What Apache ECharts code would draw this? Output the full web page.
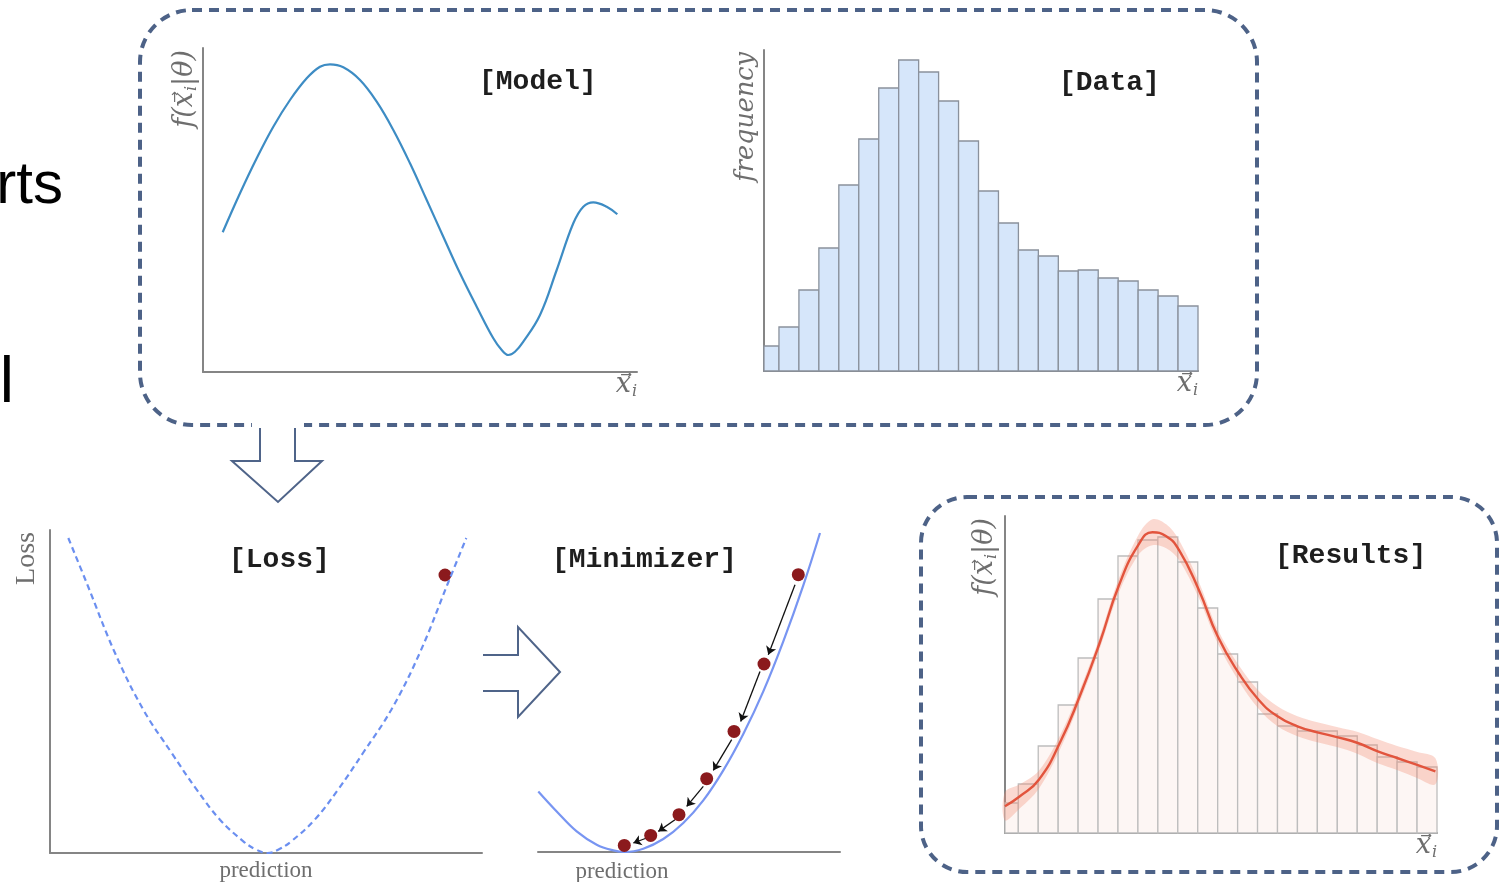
<!DOCTYPE html>
<html><head><meta charset="utf-8">
<script src="https://cdn.jsdelivr.net/npm/echarts@6/dist/echarts.min.js"></script>
<style>html,body{margin:0;padding:0;background:#fff}#c{width:1504px;height:882px}</style>
</head><body><div id="c"></div>
<script>
// ---- Model panel: curve f(x|theta) (x offset, height) ----
const modelX = [19.7,37,53.7,70.3,87,103.7,117,127,140.3,157,173.7,190.3,207,223.7,240.3,257,273.7,290.3,298.7,305.3,312,320.3,337,353.7,370.3,380.3,390.3,403.7,414.3];
const modelY = [139.7,178.7,213.7,245.3,272,293.7,305.3,307.7,304.7,292,270.3,242,208.7,172,135.3,98.7,65.3,33.7,22,17,20.3,30.3,57,102,148.7,165.3,169.7,165.3,157.7];

// ---- Data panel: histogram counts per bin ----
const dataCounts = [25,44,81,123,186,232,283,311,299,270,230,180,148,121,115,100,101,93,90,81,75,65];

// ---- Loss panel: dashed loss curve + current point ----
const lossX = [18.3,36.7,65,93.3,121.7,146.7,170,193.3,206,217.3,228.6,241.3,264.7,288,313,341.3,369.7,398,416.3];
const lossY = [315,270,200,143.3,100,63.3,33.3,11.7,3.5,0,3.5,11.7,33.3,63.3,100,143.3,200,270,315];
const lossPoint = [[395,278]];

// ---- Minimizer panel: loss curve, iterates, step arrows ----
const minX = [0.3,18.7,38.7,58.7,75.3,87,105.3,125.3,145.3,165.3,185.3,205.3,225.3,245.3,265.3,282];
const minY = [60.6,40.6,20.6,7.3,1.6,0,3.3,13,29,51.6,81.6,118,160.6,210.6,266.6,319];
const stepX = [260.3,226,196,168.7,141,112.7,86.3];
const stepY = [277.3,188,120.6,73.3,37.3,16.6,6.6];
const arrowFrom = [[257,267.3],[222,180.6],[193.7,112.3],[165.3,65.6],[137,32.3],[108.7,14]];
const arrowTo = [[230.3,197.3],[202.7,130.6],[175.3,81.6],[148.7,45.6],[120.3,20.6],[95.3,9]];

// ---- Results panel: histogram + fitted curve + uncertainty band ----
const resultCounts = [30,49,87,128,175,234,277,293,296,271,225,179,151,119,107,102,102,97,88,76,71,66];
const fitX = [0.33,1.08,2.03,3.08,4.08,5.08,6.03,7.03,7.73,8.42,9.05,10.05,11.0,12.05,13.05,14.0,15.0,16.0,17.03,18.03,19.03,20.0,20.97,21.92];
const fitY = [26.7,36.7,53.3,90,136.7,190,246.7,288.3,300.7,296.7,283.3,243.3,196.7,160,133.3,116.7,106.7,100.7,95.7,90,81.7,75,68.3,61.7];
const bandUpper = [40.7,48.7,62.3,97,142.7,196,253.7,298.3,313.7,308.7,293.3,251.3,203.7,168,142.3,126.7,116.7,110.7,105.7,101,93.7,87,81.3,74.7];
const bandLower = [12.7,24.7,44.3,83,130.7,184,239.7,278.3,287.7,284.7,273.3,235.3,189.7,152,124.3,106.7,96.7,90.7,85.7,79,69.7,63,55.3,48.7];

const AX = '#858585';
const BOX = '#4d6287';
const ARW = '#4f6489';
const LABEL = '#6e6e6e';
const MONO = {fontFamily:'Liberation Mono', fontWeight:'bold', fontSize:28, color:'#1e1e1e'};
const ITAL = {fontFamily:'DejaVu Serif', fontStyle:'italic', fontSize:24, color:LABEL};
const RICH = {
  it:{fontFamily:'DejaVu Serif', fontStyle:'italic', fontSize:27, color:LABEL, lineHeight:36},
  ar:{fontFamily:'DejaVu Sans', fontSize:14, color:LABEL, width:1, align:'right', verticalAlign:'top', padding:[1,0,0,0]},
  sub:{fontFamily:'DejaVu Serif', fontStyle:'italic', fontSize:16, color:LABEL, verticalAlign:'bottom', padding:[0,0,3,0]}
};

function zip(a,b){return a.map((v,i)=>[v,b[i]]);}
function histData(c){return c.map((v,i)=>[i,i+1,v]);}
function histRender(fill, stroke){
  return function(params, api){
    const p0 = api.coord([api.value(0), api.value(2)]);
    const p1 = api.coord([api.value(1), 0]);
    const cs = params.coordSys;
    const r = echarts.graphic.clipRectByRect(
      {x:p0[0], y:p0[1], width:p1[0]-p0[0], height:p1[1]-p0[1]},
      {x:cs.x, y:cs.y-2, width:cs.width, height:cs.height+2});
    return r && {type:'rect', shape:r, style:{fill:fill, stroke:stroke, lineWidth:1.3}};
  };
}
function axBase(g, min, max, extra){
  return Object.assign({type:'value', gridIndex:g, min:min, max:max,
    axisLine:{show:true, onZero:false, lineStyle:{color:AX, width:2}},
    axisTick:{show:false}, axisLabel:{show:false}, splitLine:{show:false}}, extra||{});
}
const xiName = {name:'{it|x}{ar|\u2192}{sub|i}', nameLocation:'end', nameGap:0,
  nameTextStyle:{align:'right', verticalAlign:'top', padding:[-5,0,0,0], rich:RICH}};
function yName(txt, style, pad){
  return {name:txt, nameLocation:'end', nameGap:-2, nameRotate:90,
    nameTextStyle:Object.assign({}, style, {align:'right', verticalAlign:'bottom', padding:[0,0,pad,0]})};
}
const fName = '{it|f(x}{ar|\u2192}{sub|i}{it||\u03B8)}';

const chart = echarts.init(document.getElementById('c'), null, {renderer:'canvas'});
chart.setOption({
  animation:false,
  backgroundColor:'#fff',
  title:[
    {text:'[Model]', left:479, top:68, padding:0, textStyle:MONO},
    {text:'[Data]', left:1059, top:69, padding:0, textStyle:MONO},
    {text:'[Loss]', left:229, top:546, padding:0, textStyle:MONO},
    {text:'[Minimizer]', left:552, top:546, padding:0, textStyle:MONO},
    {text:'[Results]', left:1275, top:542, padding:0, textStyle:MONO}
  ],
  grid:[
    {left:203, top:48, width:434, height:324, outerBoundsMode:'none'},
    {left:764, top:50, width:434, height:321, outerBoundsMode:'none'},
    {left:50, top:530, width:432, height:323, outerBoundsMode:'none'},
    {left:538, top:530, width:302, height:322, outerBoundsMode:'none'},
    {left:1005, top:516, width:432, height:317, outerBoundsMode:'none'}
  ],
  xAxis:[
    axBase(0, 0, 434, xiName),
    axBase(1, 0.25, 22, xiName),
    axBase(2, 0, 432, {name:'prediction', nameLocation:'middle', nameGap:6,
      nameTextStyle:{fontFamily:'Liberation Serif', fontSize:23, color:LABEL, verticalAlign:'top'}}),
    axBase(3, 0, 302, {name:'prediction', nameLocation:'start', nameGap:-84,
      nameTextStyle:{fontFamily:'Liberation Serif', fontSize:23, color:LABEL, align:'center', verticalAlign:'top', padding:[8,0,0,0]}}),
    axBase(4, 0.333, 22, xiName)
  ],
  yAxis:[
    axBase(0, 0, 324, yName(fName, {rich:RICH}, 0)),
    axBase(1, 0, 321, yName('frequency', Object.assign({}, ITAL, {fontSize:25.5}), 5)),
    axBase(2, 0, 323, yName('Loss', {fontFamily:'Liberation Serif', fontSize:28, color:LABEL}, 9)),
    axBase(3, 0, 322, {show:false}),
    axBase(4, 0, 317, yName(fName, {rich:RICH}, 2))
  ],
  series:[
    {type:'line', xAxisIndex:0, yAxisIndex:0, data:zip(modelX, modelY), smooth:0.4, symbol:'none',
      lineStyle:{color:'#3d8cc4', width:2.2}},
    {type:'custom', xAxisIndex:1, yAxisIndex:1, data:histData(dataCounts),
      renderItem:histRender('#d6e6fa', '#8a919c'), encode:{x:[0,1], y:2}},
    {type:'line', xAxisIndex:2, yAxisIndex:2, data:zip(lossX, lossY), smooth:0.4, symbol:'none',
      lineStyle:{color:'#6b8ff0', width:2.2, type:[6,4]}},
    {type:'scatter', xAxisIndex:2, yAxisIndex:2, data:lossPoint, symbolSize:13,
      itemStyle:{color:'#8b1a1d', opacity:1}},
    {type:'line', xAxisIndex:3, yAxisIndex:3, data:zip(minX, minY), smooth:0.4, symbol:'none',
      lineStyle:{color:'#7895f2', width:2.2}},
    {type:'lines', coordinateSystem:'cartesian2d', xAxisIndex:3, yAxisIndex:3,
      symbol:['none','arrow'], symbolSize:[0,8],
      lineStyle:{color:'#111', width:1.3, opacity:1, curveness:0},
      data:arrowFrom.map((a,i)=>({coords:[a, arrowTo[i]]})), z:3},
    {type:'scatter', xAxisIndex:3, yAxisIndex:3, data:zip(stepX, stepY), symbolSize:13,
      itemStyle:{color:'#8b1a1d', opacity:1}, z:4},
    {type:'custom', xAxisIndex:4, yAxisIndex:4, data:histData(resultCounts),
      renderItem:histRender('#fdf6f4', '#bdbdbd'), encode:{x:[0,1], y:2}, z:1},
    {type:'custom', xAxisIndex:4, yAxisIndex:4, data:[[fitX[0], bandLower[0]]], z:2,
      renderItem:function(params, api){
        const pts = [];
        for (let i=0;i<fitX.length;i++) pts.push(api.coord([fitX[i], bandUpper[i]]));
        for (let i=fitX.length-1;i>=0;i--) pts.push(api.coord([fitX[i], bandLower[i]]));
        return {type:'polygon', shape:{points:pts, smooth:0.35},
          style:{fill:'rgba(242,140,115,0.33)', stroke:null}};
      }},
    {type:'line', xAxisIndex:4, yAxisIndex:4, data:zip(fitX, fitY), smooth:0.5, symbol:'none',
      lineStyle:{color:'#e2543d', width:2.4}, z:3}
  ],
  graphic:[
    {type:'text', right:1504-63, top:156, style:{text:'rts', font:'60px "Liberation Sans"', fill:'#000', align:'right'}},
    {type:'text', right:1504-14, top:352, style:{text:'l', font:'64px "Liberation Sans"', fill:'#000', align:'right'}},
    {type:'rect', shape:{x:140, y:10, width:1117, height:415, r:52}, style:{fill:'none', stroke:BOX, lineWidth:4, lineDash:[10,7]}, z:0},
    {type:'rect', shape:{x:252, y:418, width:52, height:14}, style:{fill:'#fff'}, z:1},
    {type:'polyline', shape:{points:[[260,428],[260,461],[232,461],[278,502],[322,461],[295,461],[295,428]]},
      style:{stroke:ARW, lineWidth:2, fill:'none'}, z:2},
    {type:'polyline', shape:{points:[[483,655],[518,655],[518,627],[560,672],[518,717],[518,691],[483,691]]},
      style:{stroke:ARW, lineWidth:2, fill:'none'}, z:2},
    {type:'rect', shape:{x:921, y:497, width:576, height:375, r:46}, style:{fill:'none', stroke:BOX, lineWidth:4, lineDash:[10,7]}, z:0}
  ]
});
</script></body></html>
